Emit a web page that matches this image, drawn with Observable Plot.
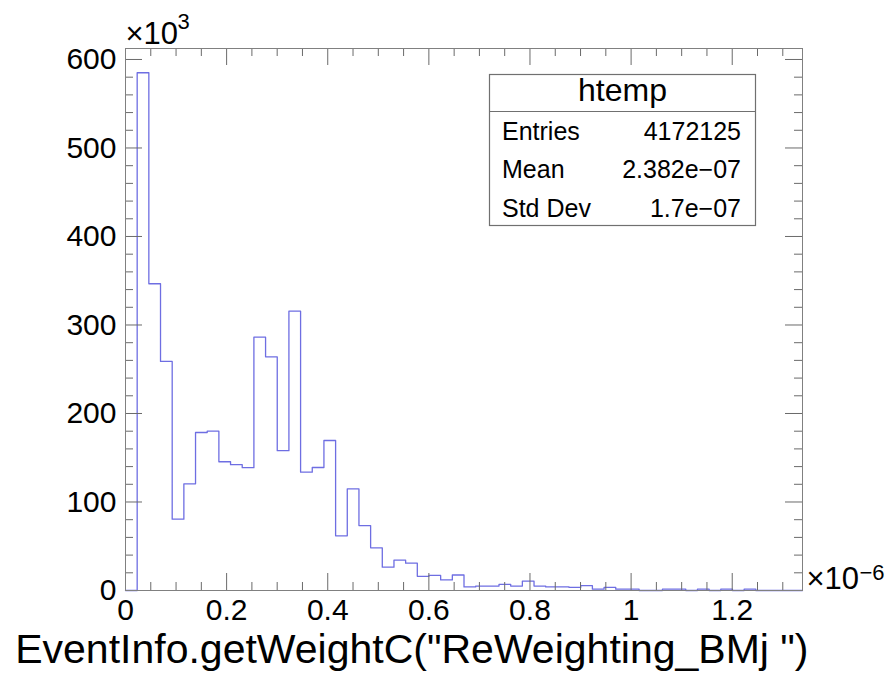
<!DOCTYPE html>
<html>
<head>
<meta charset="utf-8">
<script src="https://cdn.jsdelivr.net/npm/d3@7"></script>
<script src="https://cdn.jsdelivr.net/npm/@observablehq/plot@0.6"></script>
<style>
  html, body { margin: 0; padding: 0; background: #fff; }
  #chart svg { display: block; }
</style>
</head>
<body>
<div id="chart"></div>
<script>
// ---- data (x in units of 1e-6, counts in units of 1e3) ----
const xMax = 1.339;
const yMax = 612.4;
const counts = [
  0, 585, 346.6, 258.8, 80.6, 120.5, 178.5, 180, 145.5, 142.2,
  138.8, 286.2, 264, 158, 315.6, 133.7, 139, 169.5, 61.8, 114.9,
  73.4, 48.2, 26.4, 34.3, 30.9, 16, 17, 12, 17.5, 4,
  5, 5, 7, 5, 10.5, 5, 4, 4, 3.5, 5.5,
  1.5, 3.5, 1.5, 1.5, 0, 0, 1.5, 1.5, 0, 1.5,
  0, 1.5, 0, 1.5, 0, 0, 0, 0
];
const xMajorTicks = [0, 0.2, 0.4, 0.6, 0.8, 1, 1.2];
const xTickLabels = ["0", "0.2", "0.4", "0.6", "0.8", "1", "1.2"];
const xMinorTicks = [0.05, 0.1, 0.15, 0.25, 0.3, 0.35, 0.45, 0.5, 0.55, 0.65, 0.7, 0.75,
                     0.85, 0.9, 0.95, 1.05, 1.1, 1.15, 1.25, 1.3];
const yMajorTicks = [0, 100, 200, 300, 400, 500, 600];
const yTickLabels = ["0", "100", "200", "300", "400", "500", "600"];
const yMinorTicks = [20, 40, 60, 80, 120, 140, 160, 180, 220, 240, 260, 280, 320, 340, 360, 380,
                     420, 440, 460, 480, 520, 540, 560, 580];
const statsTitle = "htemp";
const statsNames = ["Entries", "Mean", "Std Dev"];
const statsValues = ["4172125", "2.382e\u221207", "1.7e\u221207"];
const xTitle = "EventInfo.getWeightC(\"ReWeighting_BMj \")";

// ---- layout ----
const W = 891, H = 677;
const M = {left: 125, right: 89, top: 48, bottom: 87};
const frameW = W - M.left - M.right;
const frameH = H - M.top - M.bottom;

// ---- build step outline ----
const nBins = counts.length;
const binW = xMax / nBins;
const outline = counts.map((c, i) => ({x: i * binW, y: c}));
outline.push({x: nBins * binW, y: 0});

const FONT = "'Liberation Sans', Arial, Helvetica, sans-serif";
const tickStroke = "#6a6a6a";

// inward ticks drawn as rules inset from the frame
const ticksBottom = (t, len) => Plot.ruleX(t, {x: d => d, insetTop: frameH - len, stroke: tickStroke});
const ticksTop = (t, len) => Plot.ruleX(t, {x: d => d, insetBottom: frameH - len, stroke: tickStroke});
const ticksLeft = (t, len) => Plot.ruleY(t, {y: d => d, insetRight: frameW - len, stroke: tickStroke});
const ticksRight = (t, len) => Plot.ruleY(t, {y: d => d, insetLeft: frameW - len, stroke: tickStroke});

const plot = Plot.plot({
  width: W,
  height: H,
  marginLeft: M.left,
  marginRight: M.right,
  marginTop: M.top,
  marginBottom: M.bottom,
  style: {fontFamily: FONT, background: "#fff", color: "#000"},
  x: {domain: [0, xMax]},
  y: {domain: [0, yMax]},
  marks: [
    Plot.line(outline, {x: "x", y: "y", curve: "step-after", stroke: "#6e6ee2", strokeWidth: 1.3}),
    ticksBottom(xMinorTicks, 8), ticksBottom(xMajorTicks, 17),
    ticksTop(xMinorTicks, 8), ticksTop(xMajorTicks, 17),
    ticksLeft(yMinorTicks, 8), ticksLeft(yMajorTicks, 17),
    ticksRight(yMinorTicks, 8), ticksRight(yMajorTicks, 17),
    // tick labels
    Plot.axisX(xMajorTicks, {anchor: "bottom", tickSize: 0, tickPadding: 8, label: null, fontSize: 30,
      tickFormat: d => xTickLabels[xMajorTicks.indexOf(d)], fill: "#000"}),
    Plot.axisY(yMajorTicks, {anchor: "left", tickSize: 0, tickPadding: 9, label: null, fontSize: 30,
      tickFormat: d => yTickLabels[yMajorTicks.indexOf(d)], fill: "#000"}),
    Plot.frame({stroke: "#808080"}),
    // exponent labels
    Plot.text(["\u00d710"], {frameAnchor: "top-left", textAnchor: "start", lineAnchor: "bottom", dx: 0, dy: -5, fontSize: 31, fill: "#000"}),
    Plot.text(["3"], {frameAnchor: "top-left", textAnchor: "start", lineAnchor: "bottom", dx: 52, dy: -20, fontSize: 22, fill: "#000"}),
    Plot.text(["\u00d710"], {frameAnchor: "bottom-right", textAnchor: "start", lineAnchor: "bottom", dx: 4, dy: -2, fontSize: 31, fill: "#000"}),
    Plot.text(["\u22126"], {frameAnchor: "bottom-right", textAnchor: "start", lineAnchor: "bottom", dx: 57, dy: -11, fontSize: 22, fill: "#000"}),
    // axis title
    Plot.text([xTitle], {frameAnchor: "bottom-right", textAnchor: "end", lineAnchor: "bottom", dx: 6, dy: 72, fontSize: 41, fill: "#000"})
  ]
});

// ---- statistics box ----
const svg = d3.select(plot);
const box = {x0: 489.5, x1: 755.5, y0: 74.5, y1: 225.5, sep: 111.5};
const g = svg.append("g").attr("font-family", FONT).attr("fill", "#000").attr("text-anchor", "start");
g.append("rect").attr("x", box.x0).attr("y", box.y0).attr("width", box.x1 - box.x0).attr("height", box.y1 - box.y0)
  .attr("fill", "#fff").attr("stroke", "#707070").attr("stroke-width", 1.2);
g.append("line").attr("x1", box.x0).attr("x2", box.x1).attr("y1", box.sep).attr("y2", box.sep)
  .attr("stroke", "#707070").attr("stroke-width", 1.2);
g.append("text").attr("x", (box.x0 + box.x1) / 2).attr("y", 101).attr("text-anchor", "middle")
  .attr("font-size", 32).text(statsTitle);
const rowY = [140, 178, 217];
statsNames.forEach((name, i) => {
  g.append("text").attr("x", 502).attr("y", rowY[i]).attr("text-anchor", "start").attr("font-size", 25).text(name);
  g.append("text").attr("x", 741).attr("y", rowY[i]).attr("text-anchor", "end").attr("font-size", 25).text(statsValues[i]);
});

document.getElementById("chart").appendChild(plot);
</script>
</body>
</html>
